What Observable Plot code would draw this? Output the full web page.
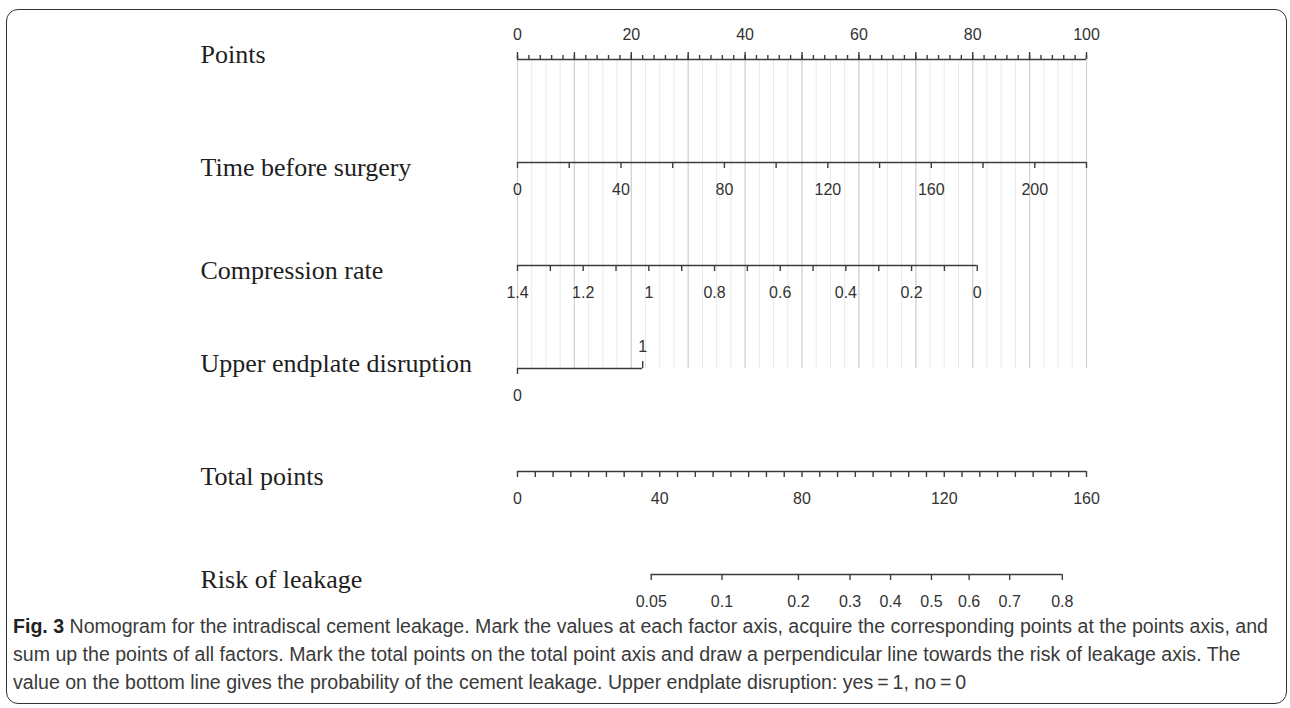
<!DOCTYPE html>
<html><head><meta charset="utf-8">
<script src="https://cdn.jsdelivr.net/npm/d3@7"></script>
<script src="https://cdn.jsdelivr.net/npm/@observablehq/plot@0.6"></script>
<style>
body{margin:0;background:#fff;width:1290px;height:708px;position:relative;overflow:hidden;}
#frame{position:absolute;left:6px;top:9px;width:1279px;height:693px;border:1.5px solid #333;border-radius:12px;}
#chart{position:absolute;left:0;top:0;}
#caption{position:absolute;left:13px;top:612px;font-family:"Liberation Sans Narrow","Arial Narrow","Liberation Sans",sans-serif;font-size:20px;line-height:28px;color:#3a3a3a;transform-origin:0 0;white-space:nowrap;}
#caption span{display:inline-block;}
#caption b{color:#222;}
</style></head><body>
<div id="frame"></div><div id="chart"></div><div id="caption"></div>
<script>
// ---- data ----
const rows = ["Points", "Time before surgery", "Compression rate", "Upper endplate disruption", "Total points", "Risk of leakage"];
const pointsLabels = [0, 20, 40, 60, 80, 100];
const timeLabels = [0, 40, 80, 120, 160, 200];
const timeTicks = [0, 20, 40, 60, 80, 100, 120, 140, 160, 180, 200, 220];
const timeMax = 220;                 // time value reached at 100 points
const compressionLabels = [1.4, 1.2, 1, 0.8, 0.6, 0.4, 0.2, 0];
const compressionTicks = [1.4, 1.3, 1.2, 1.1, 1.0, 0.9, 0.8, 0.7, 0.6, 0.5, 0.4, 0.3, 0.2, 0.1, 0];
const compressionMaxPoints = 80.8;   // points given at compression rate 0
const endplateValues = [0, 1];
const endplatePoints = [0, 22];
const totalLabels = [0, 40, 80, 120, 160];
const totalMax = 160;
const riskLabels = ["0.05", "0.1", "0.2", "0.3", "0.4", "0.5", "0.6", "0.7", "0.8"];
const riskTotals = [37.6, 57.5, 79.0, 93.5, 104.9, 116.4, 127.0, 138.4, 153.2];
const captionLines = [
  ["Fig. 3", " Nomogram for the intradiscal cement leakage. Mark the values at each factor axis, acquire the corresponding points at the points axis, and"],
  ["", "sum up the points of all factors. Mark the total points on the total point axis and draw a perpendicular line towards the risk of leakage axis. The"],
  ["", "value on the bottom line gives the probability of the cement leakage. Upper endplate disruption: yes\u2009=\u20091, no\u2009=\u20090"]
];

// ---- mappings to the points scale ----
const tP = v => v / timeMax * 100;
const cP = v => (compressionTicks[0] - v) / compressionTicks[0] * compressionMaxPoints;
const totP = v => v / totalMax * 100;

const R = rows;
const axisLines = [
  {row: R[0], x1: 0, x2: 100},
  {row: R[1], x1: 0, x2: tP(timeMax)},
  {row: R[2], x1: 0, x2: cP(0)},
  {row: R[3], x1: endplatePoints[0], x2: endplatePoints[1]},
  {row: R[4], x1: 0, x2: totP(totalMax)},
  {row: R[5], x1: totP(riskTotals[0]), x2: totP(riskTotals[riskTotals.length - 1])}
];

const pointsMinor = d3.range(0, 100.001, 2);
const pointsMajor = d3.range(0, 100.001, 10);
const gridMinor = d3.range(0, 100.001, 2.5);
const gridMajor = d3.range(0, 100.001, 10);

const downTicks = [
  ...timeTicks.map(v => ({row: R[1], x: tP(v)})),
  ...compressionTicks.map(v => ({row: R[2], x: cP(v)})),
  {row: R[3], x: endplatePoints[0]},
  ...d3.range(0, totalMax + 0.001, 5).map(v => ({row: R[4], x: totP(v)})),
  ...riskTotals.map(v => ({row: R[5], x: totP(v)}))
];
const upTicks = [{row: R[3], x: endplatePoints[1]}];

const labelsBelow = [
  ...timeLabels.map(v => ({row: R[1], x: tP(v), t: String(v)})),
  ...compressionLabels.map(v => ({row: R[2], x: cP(v), t: String(v)})),
  {row: R[3], x: endplatePoints[0], t: String(endplateValues[0])},
  ...totalLabels.map(v => ({row: R[4], x: totP(v), t: String(v)})),
  ...riskLabels.map((t, i) => ({row: R[5], x: totP(riskTotals[i]), t}))
];
const pointsTickLabels = pointsLabels.map(v => ({row: R[0], x: v, t: String(v)}));
const endplateUpLabel = [{row: R[3], x: endplatePoints[1], t: String(endplateValues[1])}];

const sans = "'Liberation Sans', Arial, sans-serif";
const serif = "'Liberation Serif', 'Times New Roman', serif";
const axisColor = "#3c3c3c";

const chart = Plot.plot({
  width: 1290,
  height: 612,
  marginLeft: 200, marginRight: 0, marginTop: 0, marginBottom: 0,
  style: {fontFamily: sans, background: "transparent"},
  x: {domain: [0, 100], range: [517, 1086], axis: null},
  y: {type: "point", domain: rows, range: [58, 574], padding: 0, axis: null},
  marks: [
    Plot.ruleX(gridMinor, {x: d => d, y1: () => R[0], y2: () => R[3], stroke: "#e9e9e9", strokeWidth: 1}),
    Plot.ruleX(gridMajor, {x: d => d, y1: () => R[0], y2: () => R[3], stroke: "#d2d2d2", strokeWidth: 1.2}),
    Plot.ruleY(axisLines, {y: "row", x1: "x1", x2: "x2", stroke: axisColor, strokeWidth: 1.6}),
    Plot.ruleX(pointsMinor, {x: d => d, y1: () => R[0], y2: () => R[0], insetTop: -4, stroke: axisColor, strokeWidth: 1.4}),
    Plot.ruleX(pointsMajor, {x: d => d, y1: () => R[0], y2: () => R[0], insetTop: -7, stroke: axisColor, strokeWidth: 1.4}),
    Plot.ruleX(downTicks, {x: "x", y1: "row", y2: "row", insetBottom: -6, stroke: axisColor, strokeWidth: 1.4}),
    Plot.ruleX(upTicks, {x: "x", y1: "row", y2: "row", insetTop: -7, stroke: axisColor, strokeWidth: 1.4}),
    Plot.text(labelsBelow, {x: "x", y: "row", text: "t", dy: 27, fontSize: 16, fill: "#333", fontFamily: sans}),
    Plot.text(pointsTickLabels, {x: "x", y: "row", text: "t", dy: -25, fontSize: 16, fill: "#333", fontFamily: sans}),
    Plot.text(endplateUpLabel, {x: "x", y: "row", text: "t", dy: -22, fontSize: 16, fill: "#333", fontFamily: sans}),
    Plot.text([R[0], R[3]], {y: d => d, text: d => d, frameAnchor: "left", textAnchor: "start", dy: -5, fontSize: 26, fill: "#1e1e1e", fontFamily: serif}),
    Plot.text([R[1], R[2], R[4], R[5]], {y: d => d, text: d => d, frameAnchor: "left", textAnchor: "start", dy: 5, fontSize: 26, fill: "#1e1e1e", fontFamily: serif})
  ]
});
document.getElementById("chart").appendChild(chart);

const cap = document.getElementById("caption");
const spans = captionLines.map(([b, t]) => {
  const div = document.createElement("div");
  const span = document.createElement("span");
  if (b) { const el = document.createElement("b"); el.textContent = b; span.appendChild(el); }
  span.appendChild(document.createTextNode(t));
  div.appendChild(span);
  cap.appendChild(div);
  return span;
});
const fit = () => {
  const tw = spans[0].offsetWidth;
  if (tw > 0) cap.style.transform = `scaleX(${1255 / tw})`;
};
fit();
if (document.fonts && document.fonts.ready) document.fonts.ready.then(fit);
</script>
</body></html>
